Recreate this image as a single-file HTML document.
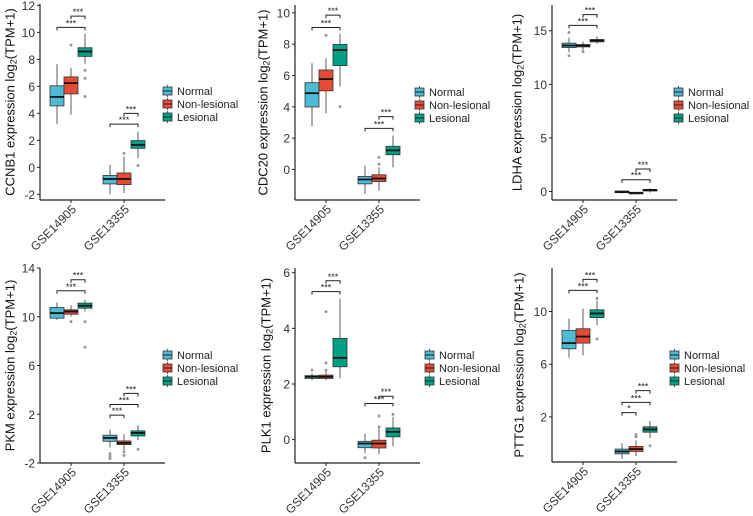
<!DOCTYPE html>
<html><head><meta charset="utf-8">
<style>
html,body{margin:0;padding:0;background:#fff;}
svg{display:block;font-family:"Liberation Sans",Arial,sans-serif;}
</style></head>
<body>
<svg id="chart" width="753" height="516" viewBox="0 0 753 516" xmlns="http://www.w3.org/2000/svg"></svg>
<script>
// Shared data
const groups = ["GSE14905", "GSE13355"];
const conditions = ["Normal", "Non-lesional", "Lesional"];
const condColors = ["#4DBBD5", "#E64B35", "#00A087"];
const genes = ["CCNB1", "CDC20", "LDHA", "PKM", "PLK1", "PTTG1"];

// Box stats: [low whisker, q1, median, q3, high whisker], order G1 N, NL, L, G2 N, NL, L
const ccnb1Stats = [[3.2,4.55,5.22,6.04,7.64],[3.9,5.44,6.24,6.7,7.35],[7.67,8.22,8.58,8.86,9.9],[-2.0,-1.23,-0.86,-0.6,0.18],[-1.9,-1.28,-0.86,-0.42,0.8],[0.67,1.41,1.66,1.98,2.65]];
const cdc20Stats = [[2.77,3.99,4.87,5.54,6.78],[3.58,5.02,5.77,6.35,7.1],[5.3,6.63,7.62,7.98,8.67],[-1.57,-0.92,-0.64,-0.45,0.24],[-1.35,-0.77,-0.58,-0.34,0.13],[0.13,0.94,1.22,1.48,2.17]];
const ldhaStats = [[12.99,13.43,13.62,13.84,14.37],[13.2,13.49,13.62,13.71,14.0],[13.8,13.96,14.09,14.18,14.47],[-0.2,-0.1,-0.05,0.05,0.1],[-0.2,-0.15,-0.12,-0.08,-0.02],[-0.1,0.05,0.13,0.2,0.3]];
const pkmStats = [[9.75,9.88,10.3,10.76,11.17],[10.02,10.21,10.43,10.57,10.95],[10.43,10.7,10.9,11.12,11.4],[-0.74,-0.22,0.06,0.28,0.75],[-0.96,-0.49,-0.35,-0.19,0.36],[-0.13,0.22,0.47,0.64,1.1]];
const plk1Stats = [[2.14,2.2,2.26,2.3,2.38],[2.14,2.2,2.26,2.32,2.44],[2.2,2.62,2.94,3.64,5.08],[-0.48,-0.29,-0.14,-0.06,0.22],[-0.53,-0.3,-0.14,-0.02,0.4],[-0.24,0.1,0.28,0.42,0.82]];
const pttg1Stats = [[6.5,7.17,7.6,8.56,9.46],[6.66,7.6,8.1,8.69,10.23],[8.95,9.54,9.85,10.13,10.82],[-1.19,-0.8,-0.62,-0.44,0.0],[-0.96,-0.62,-0.44,-0.24,0.22],[0.4,0.84,1.05,1.25,1.69]];

// Outliers: [boxIndex, value]
const ccnb1Outliers = [[1,9.05],[2,7.18],[2,6.6],[2,5.25],[4,1.04],[5,0.13]];
const cdc20Outliers = [[1,8.56],[2,4.01],[4,0.77],[4,0.34]];
const ldhaOutliers = [[0,14.84],[0,12.67],[1,13.05]];
const pkmOutliers = [[1,9.6],[2,9.6],[2,7.5],[3,-1.23],[3,-1.45],[3,-1.64],[4,-1.1],[4,-1.37],[5,-0.87]];
const plk1Outliers = [[0,2.5],[1,2.5],[1,2.76],[1,4.6],[3,-0.65],[4,0.85],[4,0.46],[5,0.91]];
const pttg1Outliers = [[2,11.0],[2,7.92],[4,0.66],[4,0.5],[5,-0.19]];

// Significance brackets: [groupIndex, fromCond, toCond, value, label]
const ccnb1Sig = [[0,0,2,10.37,"***"],[0,1,2,11.2,"***"],[1,0,2,3.2,"***"],[1,1,2,4.0,"***"]];
const cdc20Sig = [[0,0,2,9.06,"***"],[0,1,2,9.85,"***"],[1,0,2,2.62,"***"],[1,1,2,3.37,"***"]];
const ldhaSig = [[0,0,2,15.5,"***"],[0,1,2,16.5,"***"],[1,0,2,1.1,"***"],[1,1,2,2.1,"***"]];
const pkmSig = [[0,0,2,12.13,"***"],[0,1,2,13.04,"***"],[1,0,1,1.93,"***"],[1,0,2,2.8,"***"],[1,1,2,3.71,"***"]];
const plk1Sig = [[0,0,2,5.32,"***"],[0,1,2,5.71,"***"],[1,0,2,1.3,"***"],[1,1,2,1.56,"***"]];
const pttg1Sig = [[0,0,2,11.6,"***"],[0,1,2,12.44,"***"],[1,0,1,2.33,"*"],[1,0,2,3.1,"***"],[1,1,2,4.0,"***"]];

// Y-axis tick labels
const ccnb1Ticks = [-2,0,2,4,6,8,10,12];
const cdc20Ticks = [0,2,4,6,8,10];
const ldhaTicks = [0,5,10,15];
const pkmTicks = [-2,2,6,10,14];
const plk1Ticks = [0,2,4,6];
const pttg1Ticks = [2,6,10];

// Y domains [min at axis line, max at top]
const ccnb1Domain = [-2.42,12.1];
const cdc20Domain = [-1.95,10.5];
const ldhaDomain = [-0.79,17.4];
const pkmDomain = [-2,14];
const plk1Domain = [-0.84,6.17];
const pttg1Domain = [-1.42,13.3];

const panelStats = [ccnb1Stats,cdc20Stats,ldhaStats,pkmStats,plk1Stats,pttg1Stats];
const panelOutliers = [ccnb1Outliers,cdc20Outliers,ldhaOutliers,pkmOutliers,plk1Outliers,pttg1Outliers];
const panelSig = [ccnb1Sig,cdc20Sig,ldhaSig,pkmSig,plk1Sig,pttg1Sig];
const panelTicks = [ccnb1Ticks,cdc20Ticks,ldhaTicks,pkmTicks,plk1Ticks,pttg1Ticks];
const panelDomains = [ccnb1Domain,cdc20Domain,ldhaDomain,pkmDomain,plk1Domain,pttg1Domain];

// Layout (geometry, not data)
const layout = [
  {ax:40, top:4, bot:200, titleX:10, legX:163, legY:91},
  {ax:295, top:5, bot:200, titleX:263, legX:415, legY:92},
  {ax:552, top:5, bot:200, titleX:517, legX:674, legY:92},
  {ax:40, top:268, bot:463, titleX:10, legX:163, legY:355},
  {ax:295, top:268, bot:463, titleX:266, legX:425, legY:355},
  {ax:552, top:268, bot:462, titleX:519, legX:670, legY:355}
];

const svg = document.getElementById('chart');
const NS = "http://www.w3.org/2000/svg";
function mk(tag, attrs, parent){
  const e = document.createElementNS(NS, tag);
  for (const k in attrs) e.setAttribute(k, attrs[k]);
  (parent||svg).appendChild(e);
  return e;
}

panelStats.forEach((stats, p) => {
  const L = layout[p];
  const dom = panelDomains[p];
  const y = v => L.bot - (v - dom[0]) / (dom[1] - dom[0]) * (L.bot - L.top);
  const gx = g => L.ax + 31 + g * 53;
  const bx = (g, c) => gx(g) + (c - 1) * 14;
  const bw = 14;

  const g = mk('g', {});
  
  

  const yAxis = mk('line', {x1:L.ax, y1:L.top, x2:L.ax, y2:L.bot, stroke:'#222', 'stroke-width':1.2}, g);
  
  
  const xAxis = mk('line', {x1:L.ax, y1:L.bot, x2:L.ax+125, y2:L.bot, stroke:'#222', 'stroke-width':1.2}, g);
  
  

  panelTicks[p].forEach(t => {
    mk('line', {x1:L.ax-3, y1:y(t), x2:L.ax, y2:y(t), stroke:'#222', 'stroke-width':1}, g);
    const tl = mk('text', {x:L.ax-5, y:y(t)+4.5, 'text-anchor':'end', 'font-size':12, fill:'#333'}, g);
    tl.textContent = t;
    
    
  });

  groups.forEach((gn, gi) => {
    const x = gx(gi);
    mk('line', {x1:x, y1:L.bot, x2:x, y2:L.bot+3, stroke:'#222', 'stroke-width':1}, g);
    const ax = x + 6, ay = L.bot + 10;
    const xl = mk('text', {x:ax, y:ay, 'text-anchor':'end', 'font-size':12, fill:'#333', transform:`rotate(-45 ${ax} ${ay})`}, g);
    xl.textContent = gn;
    
    
  });

  const cy = (L.top + L.bot) / 2;
  const tt = mk('text', {x:L.titleX, y:cy, 'text-anchor':'middle', 'font-size':13, fill:'#111', transform:`rotate(-90 ${L.titleX} ${cy})`, dy:'0.35em'}, g);
  tt.innerHTML = genes[p] + ' expression log<tspan font-size="9" dy="2">2</tspan><tspan dy="-2">(TPM+1)</tspan>';
  
  

  stats.forEach((s, i) => {
    const gi = Math.floor(i / 3), c = i % 3;
    const cx = bx(gi, c);
    const bg = mk('g', {}, g);
    
    
    mk('line', {x1:cx, y1:y(s[0]), x2:cx, y2:y(s[4]), stroke:'#333', 'stroke-width':0.8}, bg);
    const h = Math.max(y(s[1]) - y(s[3]), 1.5);
    mk('rect', {x:cx-bw/2, y:y(s[3]), width:bw, height:h, fill:condColors[c], stroke:'#333', 'stroke-width':0.8}, bg);
    mk('line', {x1:cx-bw/2, y1:y(s[2]), x2:cx+bw/2, y2:y(s[2]), stroke:'#111', 'stroke-width':1.8}, bg);
  });

  panelOutliers[p].forEach(o => {
    const gi = Math.floor(o[0] / 3), c = o[0] % 3;
    const pt = mk('circle', {cx:bx(gi, c), cy:y(o[1]), r:1.5, fill:'#999'}, g);
    
    
  });

  panelSig[p].forEach(s => {
    const x1 = bx(s[0], s[1]), x2 = bx(s[0], s[2]), yy = y(s[3]);
    const br = mk('path', {d:`M${x1},${yy+3}V${yy}H${x2}V${yy+3}`, fill:'none', stroke:'#222', 'stroke-width':1}, g);
    
    
    const st = mk('text', {x:(x1+x2)/2, y:yy-1, 'text-anchor':'middle', 'font-size':9, fill:'#222'}, g);
    st.textContent = s[4];
    
    
  });

  conditions.forEach((cn, c) => {
    const ly = L.legY + c * 13;
    const lg = mk('g', {}, g);
    
    
    mk('line', {x1:L.legX+4.5, y1:ly-6, x2:L.legX+4.5, y2:ly+6, stroke:'#333', 'stroke-width':0.8}, lg);
    mk('rect', {x:L.legX, y:ly-4, width:9, height:8, fill:condColors[c], stroke:'#333', 'stroke-width':0.8}, lg);
    mk('line', {x1:L.legX, y1:ly, x2:L.legX+9, y2:ly, stroke:'#222', 'stroke-width':1}, lg);
    const lt = mk('text', {x:L.legX+14, y:ly+4, 'font-size':11, fill:'#222'}, lg);
    lt.textContent = cn;
  });
});
</script>
</body></html>
